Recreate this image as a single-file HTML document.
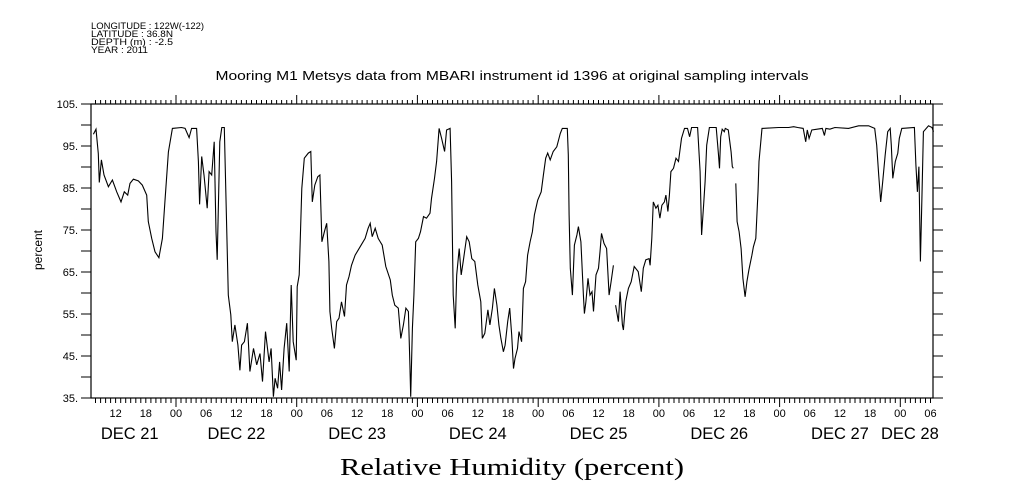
<!DOCTYPE html>
<html><head><meta charset="utf-8"><style>
html,body{margin:0;padding:0;background:#fff;width:1009px;height:504px;overflow:hidden}
svg{display:block;font-family:"Liberation Sans",sans-serif}
</style></head><body>
<svg id="chart" width="1009" height="504" viewBox="0 0 1009 504" xmlns="http://www.w3.org/2000/svg">
<g font-size="9" fill="#000">
<text x="91" y="29" textLength="113" lengthAdjust="spacingAndGlyphs">LONGITUDE : 122W(-122)</text>
<text x="91" y="37" textLength="82" lengthAdjust="spacingAndGlyphs">LATITUDE : 36.8N</text>
<text x="91" y="45" textLength="82" lengthAdjust="spacingAndGlyphs">DEPTH (m) : -2.5</text>
<text x="91" y="53" textLength="57" lengthAdjust="spacingAndGlyphs">YEAR : 2011</text>
</g>
<text x="512" y="80" text-anchor="middle" font-size="13" textLength="593" lengthAdjust="spacingAndGlyphs">Mooring M1 Metsys data from MBARI instrument id 1396 at original sampling intervals</text>
<text x="512" y="475" text-anchor="middle" font-size="24" font-family="Liberation Serif, serif" textLength="344" lengthAdjust="spacingAndGlyphs">Relative Humidity (percent)</text>
<text transform="translate(42,250) rotate(-90)" text-anchor="middle" font-size="12">percent</text>
<g id="axes"></g>
<g id="series"></g>
</svg>
<script>
// time in hours since Dec 21 00:00, 2011
const times = [7.57,8.1,8.56,8.76,9.16,9.69,10.55,11.35,12.2,13.07,13.73,14.4,14.86,15.52,16.5,17.3,18.17,18.5,19.17,19.83,20.6,21.29,21.8,22.48,23.28,25.1,25.8,26.6,27.1,28.1,28.45,28.7,29.1,29.57,30.2,30.57,31.1,31.6,31.96,32.2,32.7,33.1,33.6,34.08,34.4,34.9,35.2,35.7,36.3,36.7,37.05,37.6,38.2,38.7,39.4,40.05,40.7,41.2,41.8,42.5,42.9,43.36,43.7,44.2,44.6,45.0,45.5,46.0,46.5,46.9,47.3,47.9,48.1,48.5,49.0,49.5,50.3,50.8,51.1,51.6,52.2,52.6,53.0,53.5,53.96,54.4,54.6,54.95,55.5,55.95,56.4,56.9,57.5,57.9,58.4,58.9,59.6,60.6,61.6,62.2,62.6,63.0,63.6,64.2,65.0,65.7,66.6,67.0,67.5,68.2,68.7,69.2,69.7,70.2,70.5,70.66,71.0,71.3,71.65,72.2,72.6,73.2,73.8,74.5,74.8,75.4,75.8,76.3,76.8,77.4,77.8,78.5,78.8,79.1,79.5,79.8,80.3,80.7,81.1,81.8,82.3,82.8,83.4,84.0,84.6,84.9,85.4,86.0,86.4,86.9,87.3,87.8,88.2,88.6,89.1,89.42,89.95,90.35,90.75,91.1,91.4,91.9,92.2,92.7,93.07,93.5,93.9,94.4,94.85,95.25,95.9,96.6,97.04,97.5,97.9,98.4,99.0,99.7,100.4,100.8,101.8,102.0,102.15,102.4,102.8,103.2,103.7,104.0,104.5,105.0,105.2,105.5,105.9,106.3,106.7,107.0,107.5,108.0,108.3,108.6,109.1,109.6,110.1,110.5,110.95,111.2,111.4,111.95,112.3,112.75,112.95,113.4,113.95,114.5,115.1,115.9,116.5,116.9,117.4,118.05,118.25,118.6,118.9,119.4,119.8,120.2,120.6,121.1,121.4,121.8,122.1,122.4,122.9,123.4,123.9,124.5,125.1,125.7,126.1,126.5,127.7,128.2,128.5,128.9,129.2,129.5,130.05,131.4,131.85,132.05,132.3,132.6,133.0,133.2,133.8,134.36,134.6,134.8,135.0,135.3,135.55,135.95,136.35,136.7,137.15,137.5,137.9,138.5,138.8,139.27,139.7,139.9,140.5,143.8,145.8,146.8,147.6,148.7,149.2,149.5,149.87,150.4,152.5,152.9,153.2,154.0,155.0,157.7,159.7,161.7,162.9,163.3,163.7,164.1,164.5,165.0,165.5,166.0,166.2,166.5,167.0,167.5,167.8,168.3,170.8,171.1,171.4,171.7,172.0,172.3,172.6,173.6,174.3,174.6];
const humidity = [97.8,99.0,93.2,86.3,91.7,88.1,85.3,86.9,84.1,81.7,84.1,83.3,86.1,87.1,86.7,85.7,83.3,77,73,69.8,68.4,73,81.7,93.6,99.2,99.4,99.2,97,99.2,99.2,91.3,81.1,92.5,88.1,80.2,88.9,88.1,96,74.6,67.9,96,99.4,99.4,75.4,59.5,54.8,48.4,52.4,47.6,41.6,47.6,48.4,52.8,41.3,46.8,42.9,45.6,38.9,50.8,43.6,46.8,35.3,39.7,37.3,43.6,36.9,46.8,52.8,41.3,61.9,48.4,44.0,61.5,64.3,84.9,92.1,93.3,93.7,81.7,85.7,87.7,88.1,72.2,74.6,76.6,67.5,55.6,51.6,46.8,53.2,54.0,57.9,54.4,61.9,63.9,66.6,69.0,71.0,73.0,75.4,76.6,73.4,75.4,73.0,71.4,66.3,63.1,59.5,57.1,56.4,49.2,52.4,56.4,55.6,42.9,35.3,51.6,59.5,72.2,73.0,74.6,78.2,77.8,79.0,82.5,87.3,91.3,99.2,96.8,93.7,98.8,99.2,86.5,59.5,51.6,64.3,70.6,64.3,67.5,73.4,72.2,68.2,67.5,61.9,57.9,49.2,50.4,56.0,52.4,56.4,61.1,57.1,52.4,49.2,46.0,47.6,53.2,56.4,50,42.0,44.4,46.8,50.8,48.4,61.1,62.7,69.0,72.2,74.6,78.6,82.1,84.1,88.1,92.1,93.3,91.7,93.7,94.8,98.0,99.2,99.2,92.9,78.6,65.9,59.5,71.4,73.8,75.8,72.2,59.5,55.1,57.9,63.5,59.5,60.3,55.6,64.3,65.9,69.8,74.2,71.8,70.6,59.5,62.7,66.6,null,57.1,53.2,60.3,52.4,51.2,57.9,61.1,62.7,66.3,65.1,60.3,65.9,67.9,68.2,66.6,73,81.7,80.2,80.9,77.8,80.9,81.7,83.3,79.4,83.3,88.9,89.7,92.1,91.3,96.8,99.2,99.2,97.2,99.4,99.4,88.9,73.8,80.9,86.5,95.2,99.4,99.4,92.9,89.7,97.2,99.0,98.4,99.2,98.8,93.6,90.1,89.7,null,86.1,77,74.6,70.6,63.5,59.1,62.7,65.5,69.0,71.0,73.0,84.1,91.3,99.2,99.4,99.4,99.6,99.4,99.2,96.0,98.8,96.8,98.8,99.2,97.5,99.2,99.0,99.4,99.2,99.8,99.8,99.2,95.2,88.1,81.7,86.5,92.9,98.4,99.2,95.2,87.3,91.3,93.3,96.8,99.2,99.4,90.5,84.1,90.1,67.5,82.5,98.4,99.8,99.4,98.4];
const yTickValues = [105,95,85,75,65,55,45,35];
const yTickLabels = ["105.","95.","85.","75.","65.","55.","45.","35."];
const hourLabels = ["12","18","00","06"];
const dayLabels = ["DEC 21","DEC 22","DEC 23","DEC 24","DEC 25","DEC 26","DEC 27","DEC 28"];
const dayLabelTimes = [14.8,36,60,84,108,132,156,169.9];

const NS="http://www.w3.org/2000/svg";
const L=91,R=933,T=104,B=398;
const tMin=7.1,tMax=174.5,vMin=35,vMax=105;
function xs(t){return L+(t-tMin)/(tMax-tMin)*(R-L);}
function ys(v){return B-(v-vMin)/(vMax-vMin)*(B-T);}
function mk(tag,attrs,parent){const e=document.createElementNS(NS,tag);for(const k in attrs)e.setAttribute(k,attrs[k]);parent.appendChild(e);return e;}
const axes=document.getElementById('axes');
const frame=mk('rect',{x:L,y:T,width:R-L,height:B-T,fill:'none',stroke:'#000','stroke-width':1.2},axes);


let tp='';
for(let h=Math.ceil(tMin);h<=tMax;h++){
  const x=xs(h).toFixed(1);const major=(h%24===0);
  tp+=`M${x},${T}V${T-(major?9:4)}M${x},${B}V${B+(major?9:5)}`;
}
for(let v=vMin;v<=vMax;v+=5){
  const y=ys(v).toFixed(1);
  tp+=`M${L},${y}H${L-10}M${R},${y}H${R+10}`;
}
const ticks=mk('path',{d:tp,stroke:'#000','stroke-width':1,fill:'none'},axes);


yTickValues.forEach((v,i)=>{
  const t=mk('text',{x:78,y:ys(v)+4,'text-anchor':'end','font-size':11},axes);
  t.textContent=yTickLabels[i];
  
  
});
for(let h=12;h<=tMax;h+=6){
  const t=mk('text',{x:xs(h),y:417,'text-anchor':'middle','font-size':11},axes);
  t.textContent=hourLabels[(h/6-2)%4];
  
  
}
dayLabels.forEach((d,i)=>{
  const t=mk('text',{x:xs(dayLabelTimes[i]),y:439,'text-anchor':'middle','font-size':16.5},axes);
  t.textContent=d;
  
  
});
const series=document.getElementById('series');
let d='',pen=false;
for(let i=0;i<times.length;i++){
  const v=humidity[i];
  if(v===null){pen=false;continue;}
  d+=(pen?'L':'M')+xs(times[i]).toFixed(1)+','+ys(v).toFixed(1);
  pen=true;
}
const line=mk('path',{d:d,fill:'none',stroke:'#000','stroke-width':1.1},series);


</script>
</body></html>
